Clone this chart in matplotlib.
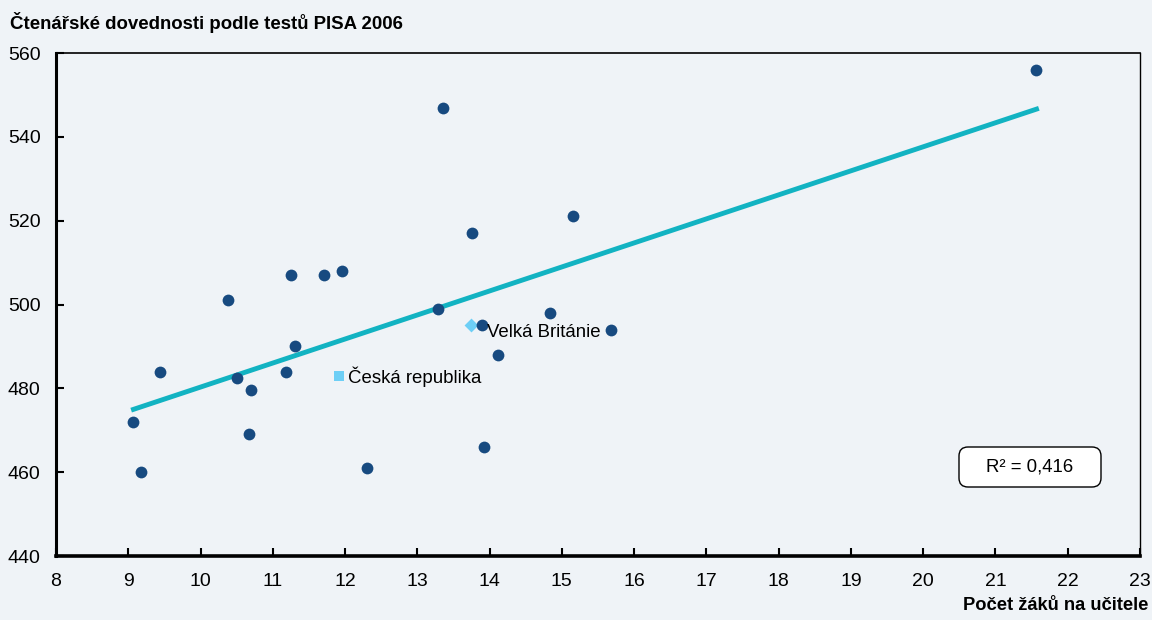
import numpy as np
import matplotlib
matplotlib.use('Agg')
import matplotlib.pyplot as plt
from matplotlib.patches import FancyBboxPatch

# OECD countries: pupils per teacher vs. PISA 2006 reading score
pupils = [9.07, 9.18, 9.44, 10.38, 10.50, 10.70, 10.67, 11.18, 11.25, 11.31, 11.71, 11.96,
          12.30, 13.29, 13.36, 13.76, 13.89, 13.92, 14.12, 14.84, 15.15, 15.68, 21.56]
reading = [472, 460, 484, 501, 482.5, 479.5, 469, 484, 507, 490, 507, 508,
           461, 499, 547, 517, 495, 466, 488, 498, 521, 494, 556]

cz_x, cz_y = 11.92, 483
uk_x, uk_y = 13.74, 495

trend_x = [9.04, 21.6]
trend_y = [474.8, 546.8]
r2_text = 'R² = 0,416'

x_ticks = list(range(8, 24))
y_ticks = list(range(440, 561, 20))

bg = '#eff3f7'
plt.rcParams['font.family'] = ['Liberation Sans', 'DejaVu Sans']

fig = plt.figure(figsize=(11.52, 6.2), dpi=100, facecolor=bg)
ax = fig.add_axes([0.0486, 0.1032, 0.941, 0.8113])
ax.set_facecolor(bg)

ax.plot(trend_x, trend_y, color='#12b3c2', lw=3.5, solid_capstyle='butt', zorder=2)
ax.scatter([uk_x], [uk_y], marker='D', s=50, color='#6dcff6', zorder=2.5, linewidths=0)
ax.scatter(pupils, reading, s=72, color='#174a80', zorder=3, linewidths=0)
ax.scatter([cz_x], [cz_y], marker='s', s=62, color='#6dcff6', zorder=4, linewidths=0)
ax.text(cz_x + 0.12, cz_y - 0.3, 'Česká republika', fontsize=13.4, va='center', ha='left', zorder=5)
ax.text(uk_x + 0.22, uk_y - 1.7, 'Velká Británie', fontsize=13.4, va='center', ha='left', zorder=5)

# R2 box (inches from figure corner)
box = FancyBboxPatch((9.59, 1.33), 1.42, 0.40, boxstyle='round,pad=0,rounding_size=0.09',
                     transform=fig.dpi_scale_trans, fc='white', ec='black', lw=1.0, zorder=6)
fig.patches.append(box)
fig.text(10.30, 1.53, r2_text, transform=fig.dpi_scale_trans, fontsize=13.4, ha='center', va='center', zorder=7)

ax.set_xlim(8, 23)
ax.set_ylim(440, 560)
ax.set_xticks(x_ticks)
ax.set_yticks(y_ticks)
ax.tick_params(direction='in', length=6, width=1.5, labelsize=14, color='black')
ax.tick_params(axis='x', pad=12)
ax.tick_params(axis='y', pad=11)

ax.spines['left'].set_linewidth(2.2)
ax.spines['bottom'].set_linewidth(2.6)
ax.spines['top'].set_linewidth(1.2)
ax.spines['right'].set_linewidth(1.0)
for s in ax.spines.values():
    s.set_color('black')

fig.text(0.009, 0.964, 'Čtenářské dovednosti podle testů PISA 2006', fontsize=13.4, fontweight='bold', ha='left', va='center')
fig.text(0.997, 0.010, 'Počet žáků na učitele', fontsize=13.2, fontweight='bold', ha='right', va='bottom')

fig.savefig('out.png', dpi=100, facecolor=bg)
